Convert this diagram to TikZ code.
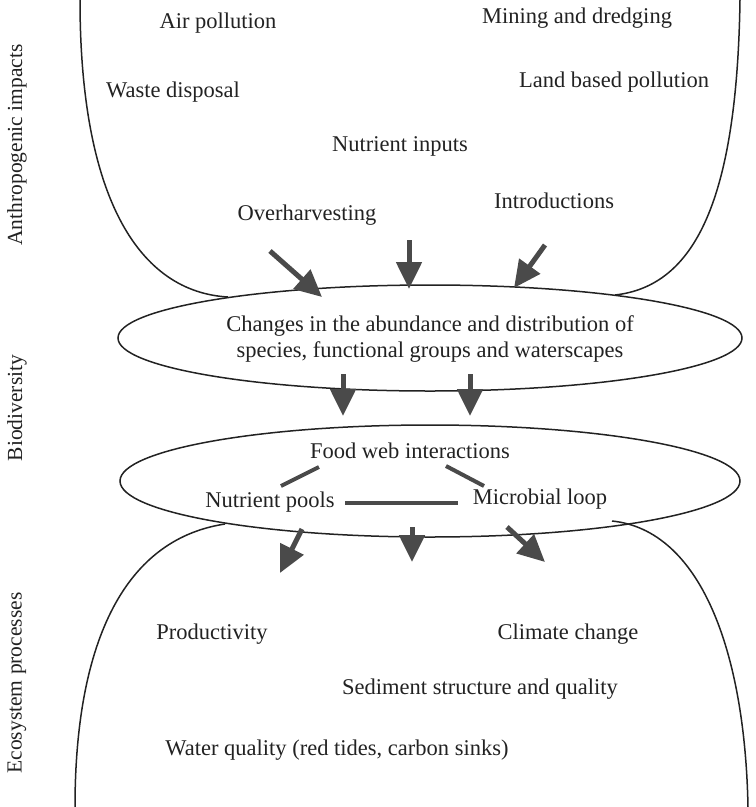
\documentclass[tikz,border=0pt]{standalone}
\usepackage{fontspec}
\setmainfont{Liberation Serif}
\usetikzlibrary{arrows.meta}
\definecolor{ink}{HTML}{222222}
\definecolor{arr}{HTML}{4A4A4A}
\begin{document}
\begin{tikzpicture}[x=1pt,y=-1pt,
  lbl/.style={inner sep=0pt, text=ink, font=\fontsize{22.5}{26}\selectfont},
  side/.style={inner sep=0pt, text=ink, font=\fontsize{21.5}{25}\selectfont, rotate=90},
  curve/.style={draw=ink, line width=1.5pt},
  bigarrow/.style={draw=arr, line width=5pt, -{Triangle[width=25pt,length=27pt]}},
  link/.style={draw=arr, line width=4pt}
]
\useasboundingbox (0,0) rectangle (756,807);
% curves
\draw[curve] (80,0) .. controls (80,200) and (140,292) .. (228,297);
\draw[curve] (740,0) .. controls (737,200) and (695,286) .. (615,295);
\draw[curve] (225,524) .. controls (120,540) and (75,650) .. (75,807);
\draw[curve] (612,521) .. controls (700,530) and (745,650) .. (748,807);
% ellipses
\draw[curve] (430,338) ellipse [x radius=312, y radius=53];
\draw[curve] (430,481) ellipse [x radius=310, y radius=56];
% side labels
\node[side] (anth) at (17,145) {Anthropogenic impacts};
\node[side] (bio) at (17,408) {Biodiversity};
\node[side] (eco) at (17,683) {Ecosystem processes};
% top labels
\node[lbl] (air) at (218,23) {Air pollution};
\node[lbl] (mine) at (577,18) {Mining and dredging};
\node[lbl] (waste) at (173,92) {Waste disposal};
\node[lbl] (land) at (614,82) {Land based pollution};
\node[lbl] (nutin) at (400,146) {Nutrient inputs};
\node[lbl] (intro) at (554,201) {Introductions};
\node[lbl] (over) at (307,215) {Overharvesting};
% upper ellipse text
\node[lbl, align=center] (changes) at (430,339) {Changes in the abundance and distribution of\\species, functional groups and waterscapes};
% lower ellipse text
\node[lbl] (food) at (410,451) {Food web interactions};
\node[lbl] (npools) at (270,502) {Nutrient pools};
\node[lbl] (micro) at (540,499) {Microbial loop};
% bottom labels
\node[lbl] (prod) at (212,634) {Productivity};
\node[lbl] (clim) at (568,634) {Climate change};
\node[lbl] (sed) at (480,689) {Sediment structure and quality};
\node[lbl] (water) at (337,750) {Water quality (red tides, carbon sinks)};
% arrow coordinates
\coordinate (a1s) at (270,251); \coordinate (a1e) at (322,297);
\coordinate (a2s) at (409,240); \coordinate (a2e) at (409,289);
\coordinate (a3s) at (545,245); \coordinate (a3e) at (514,288);
\coordinate (b1s) at (343,374); \coordinate (b1e) at (343,416);
\coordinate (b2s) at (470,374); \coordinate (b2e) at (470,416);
\coordinate (c1s) at (302,529); \coordinate (c1e) at (280,573);
\coordinate (c2s) at (412,527); \coordinate (c2e) at (412,562);
\coordinate (c3s) at (507,527); \coordinate (c3e) at (545,562);
\foreach \a in {a1,a2,a3,b1,b2,c1,c2,c3}{\draw[bigarrow] (\a s) -- (\a e);}
% links inside lower ellipse
\coordinate (l1s) at (281,486); \coordinate (l1e) at (319,467);
\coordinate (l2s) at (446,466); \coordinate (l2e) at (484,486);
\coordinate (l3s) at (345,503); \coordinate (l3e) at (458,503);
\draw[link] (l1s) -- (l1e);
\draw[link] (l2s) -- (l2e);
\draw[link] (l3s) -- (l3e);
\end{tikzpicture}
\end{document}
